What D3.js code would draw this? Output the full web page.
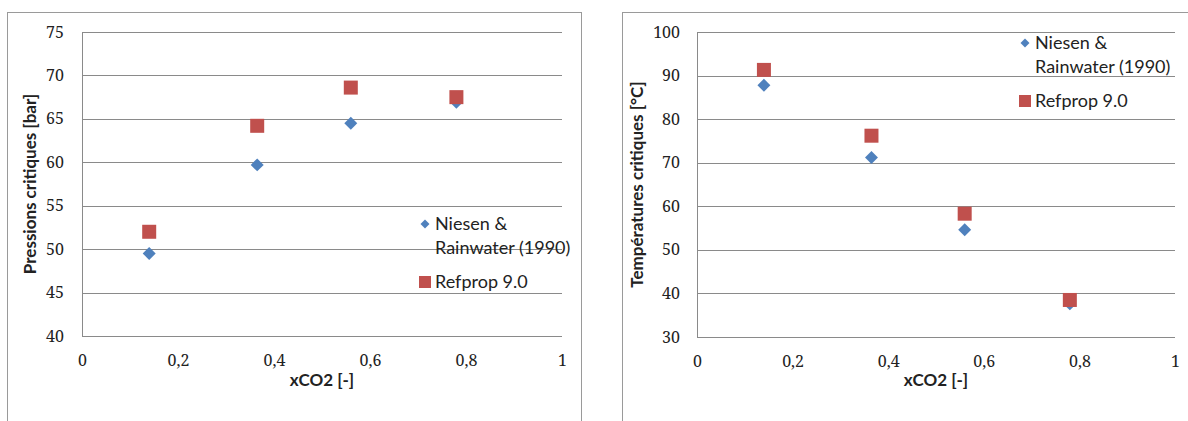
<!DOCTYPE html>
<html><head><meta charset="utf-8">
<script src="https://cdn.jsdelivr.net/npm/d3@7"></script>
<style>body{margin:0;background:#fff}svg{display:block}</style>
</head><body>
<svg id="c" width="1188" height="421"></svg>
<script>
const xCO2 = [0.14, 0.365, 0.56, 0.78];
const pressNiesen = [49.5, 59.7, 64.5, 66.9];
const pressRefprop = [52.0, 64.2, 68.6, 67.5];
const tempNiesen = [87.8, 71.2, 54.6, 37.6];
const tempRefprop = [91.3, 76.2, 58.3, 38.5];
const xTicks = [0, 0.2, 0.4, 0.6, 0.8, 1];
const xTickLabels = ["0", "0,2", "0,4", "0,6", "0,8", "1"];
const pressTicks = [40, 45, 50, 55, 60, 65, 70, 75];
const tempTicks = [30, 40, 50, 60, 70, 80, 90, 100];
const seriesNames = ["Niesen &", "Rainwater (1990)", "Refprop 9.0"];
const xTitle = "xCO2 [-]";
const pressTitle = "Pressions critiques [bar]";
const tempTitle = "Températures critiques [°C]";

const BLUE = "#4F81BD", RED = "#C0504D", GRID = "#8a8a8a";
const svg = d3.select("#c");
const tickFont = "'Noto Serif', serif";
const sansFont = "Lato, 'Open Sans', sans-serif";

function panel(o) {
  svg.append("rect").attr("x", o.frame[0]).attr("y", o.frame[1])
    .attr("width", o.frame[2]).attr("height", o.frame[3])
    .attr("fill", "none").attr("stroke", "#9a9a9a").attr("stroke-width", 1);
  const x = d3.scaleLinear().domain([0, 1]).range([o.left, o.right]);
  const y = d3.scaleLinear().domain([o.yTicks[0], o.yTicks[o.yTicks.length - 1]]).range([o.bottom, o.top]);
  const g = svg.append("g");
  g.append("g").attr("transform", `translate(${o.left},0)`)
    .call(d3.axisLeft(y).tickValues(o.yTicks).tickSize(-(o.right - o.left)).tickFormat(""))
    .call(s => s.select(".domain").remove())
    .call(s => s.selectAll("line").attr("stroke", GRID).attr("shape-rendering", "crispEdges"));
  g.append("line").attr("x1", o.left).attr("x2", o.left).attr("y1", o.top).attr("y2", o.bottom)
    .attr("stroke", GRID).attr("shape-rendering", "crispEdges");
  g.append("g").attr("transform", `translate(${o.left},0)`)
    .call(d3.axisLeft(y).tickValues(o.yTicks).tickSize(0).tickPadding(o.yPad))
    .call(s => s.select(".domain").remove())
    .call(s => s.selectAll("text").style("font-family", tickFont).style("font-size", "16px").attr("fill", "#222"));
  g.append("g").attr("transform", `translate(0,${o.bottom})`)
    .call(d3.axisBottom(x).tickValues(xTicks).tickSize(0).tickPadding(19)
      .tickFormat((d, i) => xTickLabels[i]))
    .call(s => s.select(".domain").remove())
    .call(s => s.selectAll("text").style("font-family", tickFont).style("font-size", "16px").attr("fill", "#222"));
  svg.append("text").attr("x", (o.left + o.right) / 2).attr("y", 386)
    .attr("text-anchor", "middle").attr("font-family", sansFont).attr("font-weight", "bold")
    .attr("font-size", 17).attr("fill", "#222").text(xTitle);
  svg.append("text").attr("transform", `translate(${o.yTitleX},${(o.top + o.bottom) / 2}) rotate(-90)`)
    .attr("text-anchor", "middle").attr("dy", "0.35em").attr("font-family", sansFont).attr("font-weight", "bold")
    .attr("font-size", 17).attr("fill", "#222").text(o.yTitle);
  const diamond = d3.symbol().type(d3.symbolSquare).size(84);
  g.append("g").selectAll("path").data(o.s1).join("path")
    .attr("transform", (d, i) => `translate(${x(xCO2[i])},${y(d)}) rotate(45)`)
    .attr("d", diamond()).attr("fill", BLUE);
  g.append("g").selectAll("rect").data(o.s2).join("rect")
    .attr("x", (d, i) => x(xCO2[i]) - 7).attr("y", d => y(d) - 7)
    .attr("width", 14).attr("height", 14).attr("fill", RED);
  const L = svg.append("g").attr("transform", `translate(${o.leg[0]},${o.leg[1]})`);
  L.append("path").attr("d", d3.symbol().type(d3.symbolSquare).size(40)())
    .attr("transform", "rotate(45)").attr("fill", BLUE);
  const tA = { "font-family": sansFont, "font-size": 18, fill: "#222" };
  const t1 = L.append("text").attr("x", 10).attr("y", 0).attr("dy", "0.35em").text(seriesNames[0]);
  const t2 = L.append("text").attr("x", 10).attr("y", 24).attr("dy", "0.35em").text(seriesNames[1]);
  L.append("rect").attr("x", -6).attr("y", 52).attr("width", 12).attr("height", 12).attr("fill", RED);
  const t3 = L.append("text").attr("x", 10).attr("y", 58).attr("dy", "0.35em").text(seriesNames[2]);
  [t1, t2, t3].forEach(t => Object.entries(tA).forEach(([k, v]) => t.attr(k, v)));
}

panel({ frame: [7.5, 12.5, 574, 430], left: 82, right: 562, top: 32, bottom: 336,
  yTicks: pressTicks, yPad: 18, yTitle: pressTitle, yTitleX: 30,
  s1: pressNiesen, s2: pressRefprop, leg: [425, 224] });
panel({ frame: [622.5, 12.5, 600, 430], left: 697, right: 1175, top: 32, bottom: 337,
  yTicks: tempTicks, yPad: 17, yTitle: tempTitle, yTitleX: 637,
  s1: tempNiesen, s2: tempRefprop, leg: [1025, 43] });
</script>
</body></html>
